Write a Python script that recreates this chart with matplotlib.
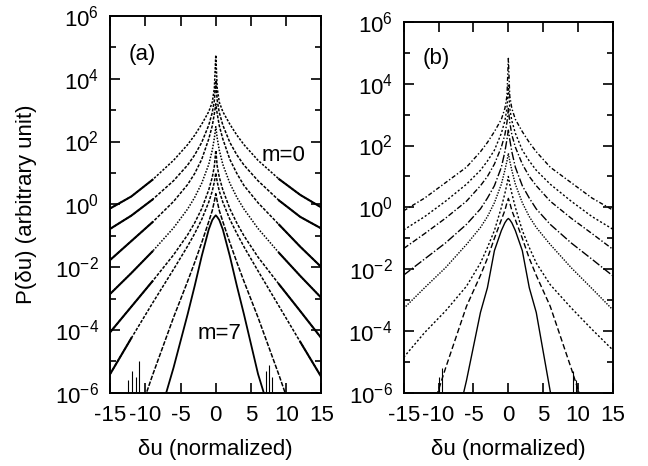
import matplotlib
matplotlib.use("Agg")
import matplotlib.pyplot as plt
from matplotlib.ticker import FixedLocator, NullFormatter

plt.rcParams['font.family'] = ['Liberation Sans', 'DejaVu Sans']
plt.rcParams['axes.unicode_minus'] = False
plt.rcParams['mathtext.fontset'] = 'custom'
plt.rcParams['mathtext.rm'] = 'Liberation Sans'

# shared abscissa grid (delta u, normalized)
X = [-15, -12, -9, -6, -4, -3, -2, -1, -0.5, -0.2, 0, 0.2, 0.5, 1, 2, 3, 4, 6, 9, 12, 15]

# panel (a): log10 P for m = 0..7
A_M0 = [-0.13, 0.25, 0.78, 1.4, 1.9, 2.2, 2.55, 2.95, 3.25, 3.7, 4.75, 3.7, 3.25, 2.95, 2.55, 2.2, 1.9, 1.4, 0.8, 0.3, -0.1]
A_M1 = [-0.78, -0.36, 0.15, 0.75, 1.25, 1.57, 1.97, 2.52, 2.92, 3.31, 3.95, 3.31, 2.92, 2.52, 1.97, 1.57, 1.25, 0.75, 0.12, -0.4, -0.77]
A_M2 = [-1.77, -1.17, -0.57, 0.09, 0.63, 0.98, 1.43, 2.08, 2.5, 2.89, 3.2, 2.89, 2.5, 2.08, 1.43, 0.98, 0.6, 0.05, -0.65, -1.35, -2.0]
A_M3 = [-2.85, -2.19, -1.5, -0.75, -0.15, 0.22, 0.67, 1.27, 1.72, 2.11, 2.47, 2.11, 1.72, 1.27, 0.67, 0.22, -0.15, -0.77, -1.55, -2.28, -2.98]
A_M4 = [-4.07, -3.26, -2.45, -1.61, -0.97, -0.59, -0.14, 0.46, 0.86, 1.22, 1.72, 1.22, 0.86, 0.46, -0.14, -0.6, -1.0, -1.68, -2.55, -3.4, -4.26]
A_M5 = [-5.4, -4.26, -3.15, -2.07, -1.33, -0.93, -0.48, 0.07, 0.42, 0.72, 1.0, 0.72, 0.42, 0.07, -0.48, -0.93, -1.35, -2.12, -3.25, -4.38, -5.5]
A_M6 = [-9.5, -7.4, -5.45, -3.6, -2.45, -1.85, -1.22, -0.55, -0.2, 0.1, 0.34, 0.1, -0.2, -0.55, -1.22, -1.85, -2.45, -3.6, -5.45, -7.4, -9.5]
A_M7 = [-13.0, -10.2, -7.5, -5.2, -3.5, -2.6, -1.65, -0.8, -0.5, -0.4, -0.35, -0.4, -0.5, -0.8, -1.65, -2.6, -3.5, -5.4, -7.6, -10.3, -13.0]

# panel (b): log10 P for m = 0..7
B_M0 = [-0.11, 0.3, 0.8, 1.3, 1.8, 2.1, 2.45, 2.85, 3.2, 3.6, 4.82, 3.6, 3.2, 2.85, 2.45, 2.1, 1.8, 1.3, 0.8, 0.3, -0.09]
B_M1 = [-0.73, -0.3, 0.2, 0.75, 1.2, 1.5, 1.85, 2.4, 2.8, 3.2, 3.95, 3.2, 2.8, 2.4, 1.85, 1.5, 1.2, 0.75, 0.2, -0.3, -0.71]
B_M2 = [-1.33, -0.85, -0.35, 0.2, 0.7, 1.0, 1.4, 1.95, 2.35, 2.75, 3.2, 2.75, 2.35, 1.95, 1.4, 1.0, 0.7, 0.2, -0.35, -0.85, -1.36]
B_M3 = [-2.19, -1.67, -1.15, -0.55, -0.05, 0.3, 0.7, 1.3, 1.8, 2.2, 2.5, 2.2, 1.8, 1.3, 0.7, 0.3, -0.05, -0.55, -1.15, -1.68, -2.22]
B_M4 = [-3.27, -2.6, -1.95, -1.2, -0.65, -0.3, 0.15, 0.75, 1.2, 1.5, 1.75, 1.5, 1.2, 0.75, 0.15, -0.3, -0.65, -1.2, -1.95, -2.63, -3.32]
B_M5 = [-4.85, -4.05, -3.35, -2.55, -1.8, -1.3, -0.75, 0.0, 0.45, 0.75, 1.0, 0.75, 0.45, 0.0, -0.75, -1.3, -1.8, -2.5, -3.25, -3.95, -4.62]
B_M6 = [-9.0, -7.3, -5.2, -3.2, -2.2, -1.65, -1.0, -0.4, -0.1, 0.15, 0.29, 0.15, -0.1, -0.4, -1.0, -1.65, -2.2, -3.2, -5.2, -7.3, -9.0]
B_M7 = [-15.0, -11.5, -8.5, -5.6, -3.4, -2.6, -1.4, -0.75, -0.5, -0.4, -0.36, -0.4, -0.5, -0.75, -1.4, -2.6, -3.4, -5.95, -8.9, -11.8, -15.0]

# noisy spikes in the far tails (x, log10 of spike top)
A_SPIKE_X = [-12.4, -11.9, -11.3, -10.9, 7.2, 7.6, 8.0]
A_SPIKE_TOP = [-5.6, -5.3, -5.5, -5.0, -5.3, -5.1, -5.5]
B_SPIKE_X = [-9.9, -9.5, 9.3, 9.7]
B_SPIKE_TOP = [-5.5, -5.2, -5.3, -5.6]

A_CURVES = [A_M0, A_M1, A_M2, A_M3, A_M4, A_M5, A_M6, A_M7]
B_CURVES = [B_M0, B_M1, B_M2, B_M3, B_M4, B_M5, B_M6, B_M7]

A_STYLES = [(0, (1.5, 1)), (0, (2, 1)), (0, (2, 1)), (0, (1, 1)), (0, (2, 1)), (0, (2, 1)), (0, (3, 1)), '-']
B_STYLES = [(0, (3, 1.5, 1, 1.5)), (0, (1.5, 1.5)), (0, (4, 1.5, 1, 1.5)), (0, (6, 1.5, 1, 1.5)),
            (0, (1, 1)), (0, (1.5, 1.5)), (0, (4, 2)), '-']
A_TAIL = [3, 3, 3, 3, 3, 2, 0, 0]  # number of outer grid points drawn as a continuous (noisy) trace

FS = 16

fig = plt.figure(figsize=(6.48, 4.66), dpi=100)
axA = fig.add_axes([0.170, 0.157, 0.326, 0.809])
axB = fig.add_axes([0.623, 0.157, 0.323, 0.796])

def style_axes(ax):
    ax.set_yscale('log')
    ax.set_xlim(-15, 15)
    ax.set_ylim(1e-6, 1e6)
    ax.yaxis.set_major_locator(FixedLocator([10.0 ** k for k in range(-6, 7, 2)]))
    ax.yaxis.set_minor_locator(FixedLocator([10.0 ** k for k in range(-5, 6, 2)]))
    ax.yaxis.set_minor_formatter(NullFormatter())
    ax.set_xticks([-15, -10, -5, 0, 5, 10, 15])
    ax.tick_params(which='both', direction='in', top=True, right=True, labelsize=FS, width=1.2)
    ax.tick_params(which='major', length=7)
    ax.tick_params(which='minor', length=4)
    ax.tick_params(axis='x', which='major', pad=9)
    ax.tick_params(axis='y', which='major', pad=8)
    for s in ax.spines.values():
        s.set_linewidth(1.4)
    ax.set_xlabel('δu (normalized)', fontsize=FS, labelpad=9)

style_axes(axA)
style_axes(axB)

for k, (curve, ls) in enumerate(zip(A_CURVES, A_STYLES)):
    yv = [10.0 ** v for v in curve]
    axA.plot(X, yv, color='black', lw=1.1 if k < 7 else 1.3, ls=ls)
    n = A_TAIL[k]
    if n:
        axA.plot(X[:n], yv[:n], color='black', lw=1.5, ls='-')
        axA.plot(X[-n:], yv[-n:], color='black', lw=1.5, ls='-')
for curve, ls in zip(B_CURVES, B_STYLES):
    axB.plot(X, [10.0 ** v for v in curve], color='black', lw=1.0, ls=ls)

axA.vlines(A_SPIKE_X, 1e-6, [10.0 ** v for v in A_SPIKE_TOP], color='black', lw=0.8)
axB.vlines(B_SPIKE_X, 1e-6, [10.0 ** v for v in B_SPIKE_TOP], color='black', lw=0.8)

axA.set_ylabel('P(δu) (arbitrary unit)', fontsize=FS)
axA.yaxis.set_label_coords(-0.345, 0.5)
axA.text(-12.4, 10 ** 4.78, '(a)', fontsize=FS, va='center', ha='left')
axB.text(-12.3, 10 ** 4.83, '(b)', fontsize=FS, va='center', ha='left')
axA.text(12.7, 10 ** 1.57, 'm=0', fontsize=FS, va='center', ha='right')
axA.text(-2.6, 10 ** -4.1, 'm=7', fontsize=FS, va='center', ha='left')

fig.savefig('out.png', dpi=100)
